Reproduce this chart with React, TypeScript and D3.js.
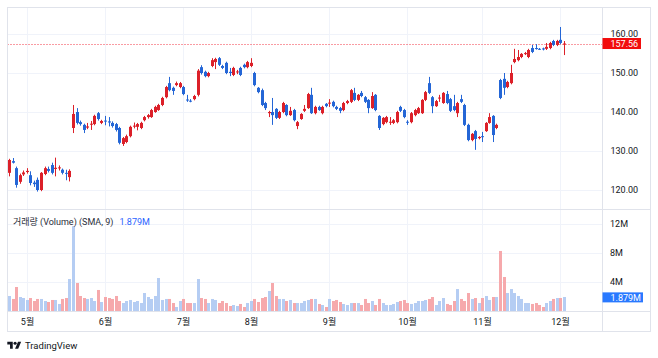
import React from 'react';
import * as d3 from 'd3';

// [open, high, low, close] per trading day
const ohlc: [number, number, number, number][] = [
  [124.4, 128.0, 123.5, 127.7], [127.4, 128.2, 126.8, 127.0], [125.6, 126.0, 120.6, 121.3], [122.1, 124.2, 121.6, 123.8],
  [124.0, 125.0, 123.6, 124.5], [124.6, 125.6, 124.2, 124.9], [123.8, 124.8, 121.2, 121.8], [121.9, 122.4, 120.8, 121.5],
  [122.6, 123.2, 119.6, 120.0], [120.0, 124.6, 119.7, 124.4], [124.1, 126.0, 123.8, 125.6], [125.4, 126.0, 124.5, 124.9],
  [126.4, 127.0, 124.0, 124.4], [125.4, 128.3, 123.5, 125.7], [125.6, 126.3, 125.0, 125.8], [125.2, 125.5, 124.0, 124.4],
  [124.4, 125.2, 122.5, 124.3], [123.3, 125.3, 122.2, 124.9],
  [135.9, 141.8, 134.6, 139.5], [140.0, 141.0, 136.8, 137.2], [137.4, 137.8, 136.5, 136.9], [136.7, 137.0, 134.6, 135.4],
  [136.0, 137.2, 135.6, 136.3], [136.9, 137.7, 135.4, 137.0], [136.9, 139.3, 136.6, 139.0], [139.7, 140.0, 137.8, 138.2],
  [137.2, 138.0, 136.9, 137.7], [137.8, 139.0, 136.6, 137.6], [137.6, 138.7, 136.3, 137.3], [137.2, 137.6, 136.0, 136.4],
  [136.9, 137.2, 135.0, 135.4], [135.9, 136.2, 131.7, 132.1], [131.8, 133.6, 131.3, 133.3], [132.3, 134.2, 132.0, 133.8],
  [133.8, 136.5, 133.5, 136.2], [136.3, 137.3, 135.8, 136.5], [136.2, 137.2, 135.3, 136.9], [135.9, 137.5, 135.6, 137.2],
  [137.9, 139.0, 137.6, 138.7], [138.7, 139.5, 138.3, 139.2], [138.7, 140.8, 138.5, 140.5], [140.0, 141.6, 139.8, 141.3],
  [140.5, 142.1, 140.3, 141.8], [141.8, 143.9, 141.5, 143.6], [143.8, 146.7, 143.5, 146.4], [147.4, 149.0, 145.3, 145.6],
  [146.2, 146.5, 144.4, 145.4], [146.9, 147.8, 146.6, 147.4], [146.4, 147.7, 146.1, 147.4], [146.4, 146.7, 144.3, 144.6],
  [143.2, 144.4, 142.6, 143.0], [142.9, 143.3, 142.5, 142.8], [143.3, 144.4, 143.0, 144.1], [144.4, 151.0, 144.0, 150.6],
  [151.5, 152.0, 149.6, 150.0], [150.3, 150.6, 148.9, 149.2], [149.2, 150.3, 148.9, 150.0], [151.8, 153.8, 151.5, 153.3],
  [152.8, 153.9, 151.0, 153.6], [153.8, 154.1, 151.8, 152.1], [151.8, 152.1, 151.0, 151.3], [152.6, 152.9, 149.7, 150.0],
  [150.3, 151.3, 149.2, 150.0], [149.5, 151.6, 149.2, 151.3], [150.2, 150.8, 149.7, 150.4], [151.3, 151.6, 149.2, 149.5],
  [152.1, 152.4, 151.2, 151.5], [151.5, 153.1, 151.2, 152.8], [151.8, 153.8, 151.5, 152.6], [150.0, 150.3, 146.6, 146.9],
  [146.2, 146.4, 144.8, 145.1], [145.6, 146.0, 141.5, 141.8], [142.3, 142.6, 140.5, 141.0], [139.7, 140.3, 138.7, 140.0],
  [140.0, 143.6, 136.7, 139.2], [140.8, 141.0, 138.2, 138.5], [138.5, 140.3, 138.2, 140.0], [140.0, 142.6, 139.7, 142.3],
  [141.8, 142.0, 138.9, 139.2], [139.2, 141.3, 139.0, 140.3], [140.5, 140.8, 137.6, 137.9], [136.4, 137.7, 135.6, 137.4],
  [138.2, 139.7, 138.0, 139.5], [140.3, 141.8, 140.0, 140.8], [141.0, 144.9, 140.8, 144.6], [144.4, 146.2, 139.5, 139.7],
  [139.7, 141.6, 139.4, 141.3], [141.3, 141.6, 140.3, 140.5], [139.7, 141.6, 139.4, 141.3], [142.1, 142.3, 141.2, 141.5],
  [142.2, 143.3, 141.3, 142.4], [142.6, 142.9, 141.2, 141.5], [141.3, 141.6, 140.5, 140.8], [141.0, 141.3, 139.7, 140.3],
  [140.5, 142.6, 140.2, 142.3], [142.3, 143.1, 142.0, 142.8], [142.6, 145.9, 142.3, 145.6], [144.9, 146.2, 142.8, 143.1],
  [143.1, 144.6, 142.8, 144.4], [144.9, 145.4, 143.8, 144.1], [143.8, 144.1, 142.3, 142.6], [143.1, 143.3, 139.7, 141.0],
  [141.0, 145.1, 140.8, 144.1], [144.4, 144.6, 140.2, 140.5], [139.0, 139.2, 135.4, 135.9], [136.9, 138.7, 136.6, 138.5],
  [137.4, 139.0, 137.1, 138.7], [137.3, 138.7, 136.7, 137.5], [137.2, 138.2, 136.9, 137.9], [137.4, 140.3, 137.1, 140.0],
  [141.3, 141.6, 140.0, 140.3], [140.5, 140.8, 138.4, 138.7], [137.5, 137.9, 136.7, 137.3], [137.4, 140.0, 137.1, 139.7],
  [139.2, 140.8, 138.9, 140.5], [139.7, 141.3, 139.5, 141.0], [139.7, 143.3, 139.5, 143.1], [143.1, 145.4, 142.8, 145.1],
  [147.4, 149.0, 144.6, 144.9], [143.8, 144.1, 139.7, 141.5], [141.5, 143.1, 141.3, 142.8], [143.5, 144.4, 142.6, 143.7],
  [142.3, 145.1, 142.1, 144.9], [144.6, 145.4, 142.0, 142.3], [143.3, 143.6, 140.0, 140.3], [141.5, 144.4, 140.2, 140.5],
  [139.7, 142.6, 138.7, 142.3], [143.3, 144.4, 142.3, 142.6], [141.8, 142.1, 136.4, 136.7], [136.7, 137.0, 132.5, 132.8],
  [132.8, 134.6, 132.5, 134.4], [135.1, 135.4, 130.3, 133.1], [133.3, 133.8, 133.0, 133.6], [133.8, 134.9, 132.3, 133.6],
  [135.1, 137.4, 134.9, 137.2], [137.2, 139.7, 137.0, 138.7], [139.0, 139.2, 132.3, 134.1], [135.9, 137.0, 135.6, 136.7],
  [148.2, 148.5, 143.3, 143.6], [148.5, 150.0, 144.4, 146.2], [146.4, 148.0, 146.1, 147.7], [147.4, 152.1, 147.1, 150.0],
  [152.8, 156.2, 152.5, 153.6], [153.3, 155.9, 153.0, 154.1], [154.1, 155.1, 153.8, 154.9], [154.9, 155.4, 154.6, 155.1],
  [154.1, 156.2, 153.8, 155.9], [156.4, 157.2, 155.1, 155.4], [156.4, 157.4, 156.0, 156.2], [156.2, 156.4, 155.9, 156.1],
  [156.3, 156.5, 155.8, 156.1], [156.2, 157.7, 155.9, 156.7], [156.4, 158.0, 156.1, 157.7], [158.2, 158.5, 156.9, 157.2],
  [157.2, 158.5, 156.9, 158.2], [158.5, 161.8, 157.4, 157.7], [157.4, 158.2, 154.6, 157.56],
];

// volume in millions
const volume = [
  2.07, 1.66, 3.31, 1.93, 1.79, 1.52, 1.79, 1.38, 1.66, 1.66,
  1.38, 1.24, 1.52, 1.52, 0.97, 1.66, 1.79, 4.41, 11.7, 3.86,
  2.07, 1.79, 1.66, 1.79, 1.38, 2.9, 1.24, 1.93, 1.79, 1.66,
  2.07, 1.38, 1.1, 1.38, 1.52, 1.24, 1.38, 1.1, 2.48, 1.93,
  1.66, 2.07, 4.55, 1.52, 1.66, 1.66, 1.1, 0.55, 1.38, 1.66,
  1.1, 1.1, 1.1, 4.41, 1.79, 1.66, 1.1, 1.66, 1.52, 1.1,
  1.38, 1.1, 0.69, 0.83, 0.69, 0.97, 0.55, 1.1, 1.38, 1.66,
  1.24, 1.79, 1.93, 2.76, 3.86, 2.07, 1.66, 1.66, 1.38, 1.52,
  1.1, 1.1, 1.1, 1.38, 1.52, 1.66, 1.66, 0.97, 0.83, 0.55,
  1.66, 1.38, 1.52, 1.24, 0.97, 0.83, 1.1, 1.1, 1.1, 0.83,
  1.66, 1.1, 1.38, 0.83, 1.66, 1.1, 0.83, 0.83, 0.97, 1.24,
  1.38, 1.52, 1.1, 0.97, 1.1, 1.38, 1.38, 1.52, 1.66, 1.93,
  0.83, 1.38, 1.79, 0.97, 0.83, 1.38, 3.03, 1.66, 1.38, 2.48,
  1.66, 1.79, 1.1, 1.79, 2.07, 1.52, 1.93, 1.93, 8.28, 4.69,
  2.48, 3.03, 2.48, 2.07, 1.66, 1.1, 1.1, 0.97, 1.1, 0.83,
  0.55, 1.1, 1.38, 1.66, 1.79, 1.79, 1.93,
];

const monthLabels = ['5월', '6월', '7월', '8월', '9월', '10월', '11월', '12월'];
const monthStart = [5, 27, 49, 68, 90, 112, 133, 155];
const priceTicks = [120, 130, 140, 150, 160];
const volumeTicks = [4, 8, 12];
const lastPrice = 157.56;
const volumeSma = 1.879;

const W = 658;
const H = 358;
const LEFT = 7.5;
const TOP = 7.5;
const RIGHT = 650.5;
const BOTTOM = 331.5;
const AXIS_X = 602.5;
const SPLIT_Y = 209.5;
const VOL_Y = 311.5;

const UP = '#dc2029';
const DOWN = '#2466d6';
const VOL_RED = '#f6a9ac';
const VOL_BLUE = '#b5cdf3';
const GRID = '#f0f3fa';
const BORDER = '#e0e3eb';
const TEXT = '#131722';
const FONT = "Roboto, 'Noto Sans CJK KR', sans-serif";

export default function App() {
  const x = d3.scaleBand<number>().domain(d3.range(ohlc.length)).range([7.2, 565.8]);
  const cx = (i: number) => Math.round((x(i) ?? 0) + x.bandwidth() / 2);
  const y = d3.scaleLinear().domain([120, 160]).range([190, 34]);
  const yv = d3.scaleLinear().domain([0, 12]).range([311, 224]);

  return (
    <div style={{ position: 'fixed', left: 0, top: 0, width: W, height: H, background: '#fff' }}>
      <svg width={W} height={H} style={{ display: 'block', fontFamily: FONT }}>
        <defs>
          <clipPath id="pricePane">
            <rect x={LEFT} y={TOP} width={AXIS_X - LEFT} height={SPLIT_Y - TOP} />
          </clipPath>
          <clipPath id="volPane">
            <rect x={LEFT} y={SPLIT_Y} width={AXIS_X - LEFT} height={VOL_Y - SPLIT_Y} />
          </clipPath>
        </defs>
        <rect width={W} height={H} fill="#fff" />

        {/* grid */}
        {monthStart.map((m, k) => (
          <line key={'vg' + k} x1={cx(m) + 0.5} x2={cx(m) + 0.5} y1={TOP} y2={VOL_Y} stroke={GRID} />
        ))}
        {priceTicks.map(t => (
          <line key={'pg' + t} x1={LEFT} x2={AXIS_X} y1={Math.round(y(t)) + 0.5} y2={Math.round(y(t)) + 0.5} stroke={GRID} />
        ))}
        {volumeTicks.map(t => (
          <line key={'vgl' + t} x1={LEFT} x2={AXIS_X} y1={Math.round(yv(t)) + 0.5} y2={Math.round(yv(t)) + 0.5} stroke={GRID} />
        ))}

        {/* volume */}
        <g clipPath="url(#volPane)">
          {volume.map((v, i) => {
            const [o, , , c] = ohlc[i];
            return (
              <rect key={'v' + i} x={cx(i) - 1} width={3} y={yv(v)} height={311 - yv(v)}
                fill={c >= o ? VOL_BLUE : VOL_RED} />
            );
          })}
        </g>

        {/* price line */}
        <line x1={LEFT} x2={AXIS_X} y1={Math.round(y(lastPrice)) + 0.5} y2={Math.round(y(lastPrice)) + 0.5}
          stroke="#f23645" strokeDasharray="1 2" />

        {/* candles */}
        <g clipPath="url(#pricePane)">
          {ohlc.map(([o, h, l, c], i) => {
            const col = c >= o ? UP : DOWN;
            const top = y(Math.max(o, c));
            const bh = Math.max(1, y(Math.min(o, c)) - top);
            const px = cx(i);
            return (
              <g key={'c' + i}>
                <rect x={px} width={1} y={y(h)} height={y(l) - y(h)} fill={col} />
                <rect x={px - 1} width={3} y={top} height={bh} fill={col} />
              </g>
            );
          })}
        </g>

        {/* frame and separators */}
        <rect x={LEFT} y={TOP} width={RIGHT - LEFT} height={BOTTOM - TOP} fill="none" stroke={BORDER} />
        <line x1={LEFT} x2={RIGHT} y1={SPLIT_Y} y2={SPLIT_Y} stroke={BORDER} />
        <line x1={LEFT} x2={RIGHT} y1={VOL_Y} y2={VOL_Y} stroke={BORDER} />
        <line x1={AXIS_X} x2={AXIS_X} y1={TOP} y2={BOTTOM} stroke={BORDER} />

        {/* price axis */}
        {priceTicks.map(t => (
          <text key={'pt' + t} x={610.5} y={y(t)} dy="0.35em" fontSize={9} fill={TEXT}>{t.toFixed(2)}</text>
        ))}
        <rect x={AXIS_X} y={y(lastPrice) - 5.5} width={38.5} height={11} fill="#f20d0d" />
        <text x={610.5} y={y(lastPrice)} dy="0.35em" fontSize={9} fill="#fff">{lastPrice.toFixed(2)}</text>

        {/* volume axis */}
        {volumeTicks.map(t => (
          <text key={'vt' + t} x={610} y={yv(t)} dy="0.35em" fontSize={9} fill={TEXT}>{t}M</text>
        ))}
        <rect x={AXIS_X} y={yv(volumeSma) - 5} width={40.5} height={10} fill="#2979ff" />
        <text x={610.5} y={yv(volumeSma)} dy="0.35em" fontSize={9} fill="#fff">{volumeSma.toFixed(3)}M</text>

        {/* volume legend */}
        <text x={13} y={221.5} dy="0.35em" fontSize={9} fill="#2a2e39">
          거래량 (Volume) (SMA, 9)
          <tspan dx={6} fill="#2962ff">{volumeSma.toFixed(3)}M</tspan>
        </text>

        {/* time axis */}
        {monthStart.map((m, k) => (
          <text key={'mt' + k} x={cx(m) + 0.5} y={322} dy="0.35em" textAnchor="middle" fontSize={9} fill={TEXT}>
            {monthLabels[k]}
          </text>
        ))}

        {/* TradingView logo */}
        <g transform="translate(7.3,340.1) scale(0.39)" fill={TEXT}>
          <path d="M14 22H7V11H0V4h14v18z" />
          <path d="M28 22h-8l7.5-18h8L28 22z" />
          <circle cx={20} cy={8} r={4} />
        </g>
        <text x={25} y={345.3} dy="0.35em" fontSize={9.5} fill={TEXT}>TradingView</text>
      </svg>
    </div>
  );
}
